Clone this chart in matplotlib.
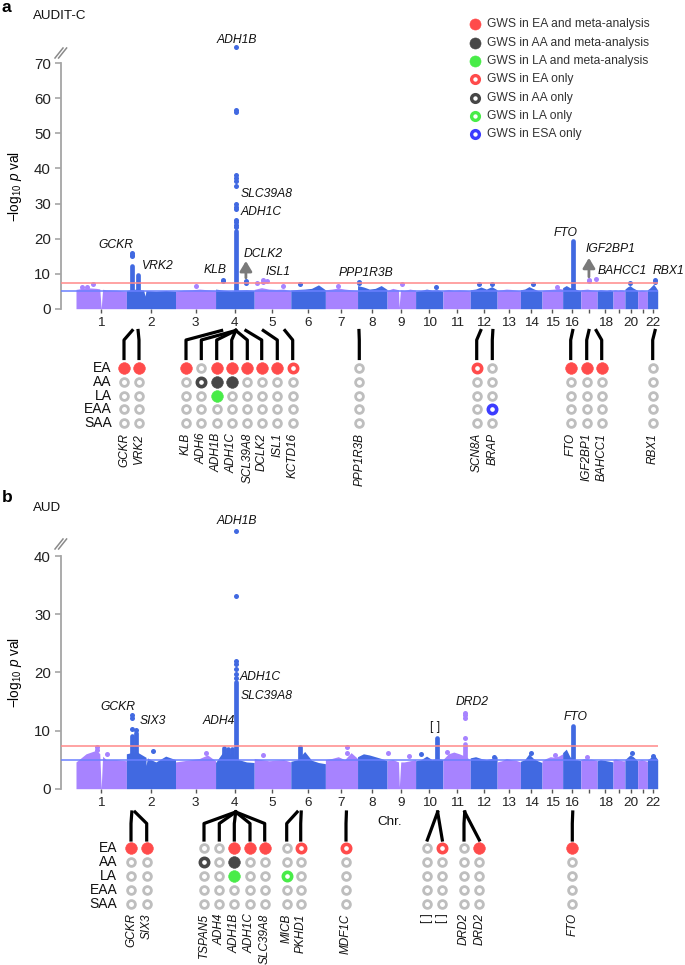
import numpy as np
import matplotlib
matplotlib.use("Agg")
import matplotlib.pyplot as plt

plt.rcParams["font.family"] = ["Liberation Sans", "DejaVu Sans"]
plt.rcParams["mathtext.fontset"] = "custom"
plt.rcParams["mathtext.rm"] = "Liberation Sans"
plt.rcParams["mathtext.it"] = "Liberation Sans:italic"

# ======================= DATA =======================
chrom_len = [249, 243, 198, 191, 181, 171, 159, 146, 141, 135, 135,
             133, 115, 107, 102, 90, 81, 78, 59, 63, 48, 51]
chrom_tick_labels = ["1", "2", "3", "4", "5", "6", "7", "8", "9", "10", "11",
                     "12", "13", "14", "15", "16", "", "18", "", "20", "", "22"]
gws_line = 7.3
sugg_line = 5.0

# ---- panel a (AUDIT-C) ----
env_a = [[5.5, 6.0, 5.8, 5.4, 5.3, 5.0], [5.2, 5.6, 5.2, 5.0, 5.2, 5.0],
         [5.0, 5.3, 5.4, 5.6, 5.4, 5.2], [5.6, 5.3, 5.1, 5.3, 5.4, 5.2],
         [5.5, 6.0, 5.6, 5.5, 5.6, 5.1], [5.3, 5.5, 5.6, 5.8, 6.8, 5.4],
         [5.4, 5.6, 5.9, 5.6, 5.4, 5.2], [6.6, 6.2, 5.6, 5.8, 6.6, 5.5],
         [5.2, 5.8, 5.4, 5.2, 5.6, 5.3], [5.0, 5.2, 5.6, 5.3, 5.4, 5.0],
         [5.2, 5.5, 5.3, 5.4, 5.3, 5.1], [5.4, 5.6, 6.2, 5.6, 6.3, 5.4],
         [5.2, 5.4, 5.6, 5.5, 5.3, 5.1], [5.4, 5.6, 6.3, 5.7, 5.2, 5.0],
         [5.2, 5.4, 5.5, 5.6, 5.8, 5.6], [6.0, 6.6, 6.0, 5.8, 5.4, 5.2],
         [5.4, 5.5, 5.6, 5.4, 5.3, 5.2], [5.2, 5.4, 5.3, 5.2, 5.4, 5.1],
         [5.3, 5.4, 5.2, 5.4, 5.3, 5.0], [5.6, 6.2, 6.6, 6.0, 5.6, 5.2],
         [5.0, 5.2, 5.3, 5.2, 5.1, 5.0], [5.4, 5.8, 6.4, 7.0, 6.2, 5.3]]
gaps_a = [(1, 0.50, 0.0), (2, 0.38, 3.6), (9, 0.42, 0.4)]
peak_cols_a = [(2, 29, 5, 12.3), (2, 58, 5, 9.7), (4, 99.5, 5, 22.3), (16, 50, 5, 19.2)]
peak_dots_a = [(2, 29, 15.8), (2, 29, 15.3), (2, 29, 14.9), (4, 38, 8.3), (4, 38, 7.8),
               (4, 99.5, 74.6), (4, 99.5, 56.7), (4, 99.5, 56.1), (4, 99.5, 38.0),
               (4, 99.5, 37.2), (4, 99.5, 36.3), (4, 99.5, 35.0), (4, 99.5, 29.9),
               (4, 99.5, 29.0), (4, 99.5, 28.4), (4, 99.5, 25.3), (4, 99.5, 24.7),
               (4, 99.5, 24.0), (4, 99.5, 23.3), (4, 150, 8.0), (4, 150, 7.4),
               (5, 45, 8.2), (5, 45, 7.7), (8, 5, 7.6), (8, 5, 7.2), (17, 40, 8.3),
               (17, 40, 7.9), (17, 76, 8.4), (22, 38, 8.2), (22, 38, 7.7),
               (1, 28, 6.1), (1, 56, 6.3), (1, 86, 7.1), (3, 101, 6.5), (5, 14, 7.2),
               (5, 62, 7.8), (5, 141, 6.5), (6, 46, 7.0), (7, 64, 6.4), (9, 72, 7.0),
               (10, 99, 6.3), (12, 45, 7.0), (12, 106, 7.0), (14, 61, 7.0), (15, 72, 6.3),
               (20, 25, 7.2)]
yticks_a = [0, 10, 20, 30, 40, 50, 60, 70]
labels_a = [("ADH1B", 4, 99.5, 76.6, 1, "center"), ("GCKR", 2, 29, 18.2, -16, "center"),
            ("VRK2", 2, 58, 12.3, 3.5, "left"), ("KLB", 4, 38, 11.0, -8, "center"),
            ("SLC39A8", 4, 99.5, 32.7, 5, "left"), ("ADH1C", 4, 99.5, 27.5, 5, "left"),
            ("DCLK2", 4, 150, 15.6, -2, "left"), ("ISL1", 5, 45, 10.6, 2, "left"),
            ("PPP1R3B", 8, 5, 10.2, -20, "left"), ("FTO", 16, 50, 21.7, -7, "center"),
            ("IGF2BP1", 17, 40, 16.9, -3.5, "left"), ("BAHCC1", 17, 76, 10.8, 1, "left"),
            ("RBX1", 22, 38, 10.8, -2.5, "left")]
arrows_a = [(4, 150, 8.8, 13.6), (17, 40, 9.1, 14.5)]

genes_a = ["GCKR", "VRK2", "KLB", "ADH6", "ADH1B", "ADH1C", "SCL39A8", "DCLK2", "ISL1",
           "KCTD16", "PPP1R3B", "SCN8A", "BRAP", "FTO", "IGF2BP1", "BAHCC1", "RBX1"]
gene_chr_a = [2, 2, 4, 4, 4, 4, 4, 4, 5, 5, 8, 12, 12, 16, 17, 17, 22]
gene_pos_a = [29, 58, 30, 99.8, 99.9, 100.0, 100.2, 150, 45, 152, 7, 52, 112, 50, 40, 76, 38]
status_a = ["F....", "F....", "F....", ".R...", "FFF..", "FF...", "F....", "F....", "F....",
            "R....", ".....", "R....", "...R.", "F....", "F....", "F....", "....."]

# ---- panel b (AUD) ----
env_b = [[4.6, 6.0, 6.6, 5.0, 5.0, 4.8], [6.0, 6.4, 5.4, 4.6, 5.6, 5.0],
         [4.6, 4.8, 5.0, 5.2, 5.8, 4.8], [4.5, 6.4, 6.0, 5.0, 4.6, 4.5],
         [5.2, 5.0, 4.8, 4.9, 5.0, 4.6], [4.7, 5.0, 6.4, 4.9, 4.5, 4.3],
         [5.0, 5.2, 5.5, 5.0, 6.2, 5.2], [5.5, 6.0, 5.8, 5.5, 5.2, 4.8],
         [4.8, 5.0, 4.6, 4.6, 4.8, 5.0], [4.8, 5.0, 5.6, 5.0, 5.2, 5.0],
         [5.0, 6.0, 6.3, 6.0, 5.6, 5.0], [5.3, 5.5, 5.2, 5.0, 5.2, 5.5],
         [4.6, 4.8, 5.2, 5.0, 4.9, 4.6], [4.7, 5.0, 6.0, 5.2, 4.8, 4.5],
         [4.8, 5.2, 5.5, 5.4, 5.6, 6.0], [6.2, 6.8, 5.5, 5.0, 5.0, 4.8],
         [5.0, 5.2, 5.0, 5.1, 5.0, 4.8], [4.8, 5.0, 4.9, 4.8, 4.7, 4.6],
         [5.0, 5.1, 5.0, 4.9, 4.8, 4.8], [5.0, 5.4, 5.8, 5.6, 5.2, 4.8],
         [4.8, 4.9, 5.0, 4.9, 4.8, 4.7], [5.0, 5.2, 5.5, 5.8, 5.5, 5.0]]
gaps_b = [(1, 0.50, 0.0), (2, 0.40, 4.0), (9, 0.43, 0.3)]
peak_cols_b = [(2, 29, 5, 9.0), (2, 47, 5, 9.6), (4, 40, 5, 7.0), (4, 60, 5, 6.9),
               (4, 80, 5, 6.8), (4, 99.5, 5, 18.3), (6, 45.5, 5, 7.2), (10, 106, 5, 8.7),
               (11, 108, 5, 7.6), (16, 50, 5, 10.8)]
peak_dots_b = [(2, 29, 12.7), (2, 29, 12.1), (2, 29, 10.2), (2, 47, 10.1),
               (4, 99.5, 44.3), (4, 99.5, 33.1), (4, 99.5, 22.0), (4, 99.5, 21.4),
               (4, 99.5, 20.5), (4, 99.5, 19.8), (4, 99.5, 19.1), (11, 108, 13.0),
               (11, 108, 12.6), (11, 108, 12.2), (11, 108, 8.7), (7, 105, 7.2),
               (7, 105, 6.2), (1, 102, 7.2), (1, 102, 6.6), (1, 153, 6.0), (2, 133, 6.5),
               (3, 153, 6.2), (5, 44, 5.8), (9, 4, 6.2), (9, 110, 5.6), (10, 25, 6.0),
               (11, 20, 6.3), (12, 120, 5.4), (14, 51, 6.2), (15, 66, 5.8), (17, 29, 5.5),
               (20, 33, 6.2), (22, 26, 5.7)]
yticks_b = [0, 10, 20, 30, 40]
labels_b = [("ADH1B", 4, 99.5, 46.1, 1, "center"), ("ADH1C", 4, 99.5, 19.25, 4, "left"),
            ("SLC39A8", 4, 99.5, 15.9, 5, "left"), ("GCKR", 2, 29, 14.1, -14, "center"),
            ("SIX3", 2, 47, 11.7, 3.5, "left"), ("ADH4", 4, 99.5, 11.7, -1, "right"),
            ("[ ]", 10, 106, 10.66, -2, "center"), ("DRD2", 11, 108, 14.95, 7.5, "center"),
            ("FTO", 16, 50, 12.4, 3, "center")]

genes_b = ["GCKR", "SIX3", "TSPAN5", "ADH4", "ADH1B", "ADH1C", "SLC39A8", "MICB", "PKHD1",
           "MDF1C", "[ ]", "[ ]", "DRD2", "DRD2", "FTO"]
gene_chr_b = [2, 2, 4, 4, 4, 4, 4, 6, 6, 7, 10, 10, 11, 11, 16]
gene_pos_b = [27, 43, 99.5, 99.6, 99.7, 99.8, 99.9, 31.5, 51.5, 104, 109, 109, 108, 108, 50]
status_b = ["F....", "F....", ".R...", ".....", "FFF..", "F....", "F....", "..R..", "R....",
            "R....", ".....", "R....", ".....", "F....", "F...."]

row_names = ["EA", "AA", "LA", "EAA", "SAA"]
row_colors = ["#FF4B4B", "#474747", "#48EC48", "#3C3CFF", "#9A9A9A"]

legend_labels = ["GWS in EA and meta-analysis", "GWS in AA and meta-analysis",
                 "GWS in LA and meta-analysis", "GWS in EA only", "GWS in AA only",
                 "GWS in LA only", "GWS in ESA only"]
legend_colors = ["#FF4B4B", "#474747", "#48EC48", "#FF4B4B", "#474747", "#48EC48", "#3C3CFF"]
legend_filled = [True, True, True, False, False, False, False]

# ======================= STYLE / LAYOUT =======================
W, H = 685, 965
PURPLE = "#A783FF"
BLUE = "#4169E1"
GREY_RING = "#BEBEBE"

fig = plt.figure(figsize=(W / 100, H / 100), dpi=100)


def px_rect(l, t, r, b):
    return [l / W, 1 - b / H, (r - l) / W, (b - t) / H]


starts = np.concatenate([[0], np.cumsum(chrom_len)[:-1]])
total = float(np.sum(chrom_len))
centers = starts + np.array(chrom_len) / 2.0

g0_px, g1_px, ax_l_px, ax_r_px = 76.0, 657.7, 60.7, 670.0
scale = (g1_px - g0_px) / total
xlim = (-(g0_px - ax_l_px) / scale, total + (ax_r_px - g1_px) / scale)


def cum(ch, pos):
    return starts[ch - 1] + pos


def is_italic(name):
    return "italic" if any(ch.isalnum() for ch in name) else "normal"


def manhattan(ax, env, gaps, cols, dots, yticks, ytop, labels, arrows):
    for i, L in enumerate(chrom_len):
        c = PURPLE if i % 2 == 0 else BLUE
        xs = list(starts[i] + L * np.linspace(0, 1, len(env[i])))
        ys = list(env[i])
        for ch, f, d in gaps:
            if ch == i + 1:
                xg = starts[i] + L * f
                dlt = 7.0
                hl = np.interp(xg - dlt, xs, ys)
                hr = np.interp(xg + dlt, xs, ys)
                xs += [xg - dlt, xg, xg + dlt]
                ys += [hl, d, hr]
        order = np.argsort(xs)
        ax.fill_between(np.array(xs)[order], 0, np.array(ys)[order], color=c, lw=0, zorder=2)
    for ch, pos, lo, hi in cols:
        c = PURPLE if (ch - 1) % 2 == 0 else BLUE
        ax.plot([cum(ch, pos)] * 2, [lo, hi], color=c, lw=3.4, solid_capstyle="round", zorder=3)
    for ch, pos, v in dots:
        c = PURPLE if (ch - 1) % 2 == 0 else BLUE
        ax.plot(cum(ch, pos), v, "o", ms=3.6, color=c, mew=0, zorder=3)
    ax.hlines(gws_line, xlim[0], total, color="#FF8A8A", lw=1.3, alpha=0.85, zorder=4)
    ax.hlines(sugg_line, xlim[0], total, color="#6A80FF", lw=1.3, alpha=0.85, zorder=4)
    ax.set_xlim(*xlim)
    ax.set_ylim(0, ytop)
    ax.set_yticks(yticks)
    ax.set_xticks(centers, chrom_tick_labels)
    for s in ["top", "right", "bottom"]:
        ax.spines[s].set_visible(False)
    ax.spines["left"].set_color("#A5A5A5")
    ax.spines["left"].set_linewidth(1.3)
    ax.spines["left"].set_bounds(yticks[0], yticks[-1])
    ax.tick_params(axis="y", length=4, width=1.2, color="#A5A5A5", pad=3,
                   labelsize=10.8, labelcolor="#222222")
    ax.tick_params(axis="x", length=3, width=1, color="#555555", pad=3,
                   labelsize=9.7, labelcolor="#222222")
    ax.patch.set_visible(False)
    for name, ch, pos, y, dx, ha in labels:
        ax.annotate(name, xy=(cum(ch, pos), y), xytext=(dx * 0.72, 0),
                    textcoords="offset points", ha=ha, va="center",
                    style=is_italic(name), fontsize=8.7, color="#111111",
                    annotation_clip=False)
    for ch, pos, y0, y1 in arrows:
        ax.annotate("", xy=(cum(ch, pos), y1), xytext=(cum(ch, pos), y0),
                    arrowprops=dict(arrowstyle="-|>,head_width=0.3,head_length=0.5",
                                    color="#7A7A7A", lw=2.0, shrinkA=0, shrinkB=0,
                                    mutation_scale=12))


# panel a axes: value 0 at y=308.7 px, 3.506 px per unit
ya0, ya_ppu, ya_top = 308.7, 3.506, 80
ax_a = fig.add_axes(px_rect(ax_l_px, ya0 - ya_top * ya_ppu, ax_r_px, ya0))
manhattan(ax_a, env_a, gaps_a, peak_cols_a, peak_dots_a, yticks_a, ya_top, labels_a, arrows_a)

yb0, yb_ppu, yb_top = 788.7, 5.8175, 46
ax_b = fig.add_axes(px_rect(ax_l_px, yb0 - yb_top * yb_ppu, ax_r_px, yb0))
manhattan(ax_b, env_b, gaps_b, peak_cols_b, peak_dots_b, yticks_b, yb_top, labels_b, [])

# overlay in pixel coordinates
ov = fig.add_axes([0, 0, 1, 1], zorder=5)
ov.set_xlim(0, W)
ov.set_ylim(H, 0)
ov.axis("off")
ov.patch.set_visible(False)


def gx_px(ax, ch, pos):
    return ax.transData.transform((cum(ch, pos), 0))[0]


def cell(x, y, code, color):
    if code == "F":
        ov.plot(x, y, "o", ms=8.4, mfc=color, mec=color, mew=0.4, zorder=6)
    elif code == "R":
        ov.plot(x, y, "o", ms=6.0, mfc="white", mec=color, mew=2.6, zorder=6)
    else:
        ov.plot(x, y, "o", ms=5.6, mfc="white", mec=GREY_RING, mew=2.0, zorder=6)


def dot_matrix(ax, genes, gchr, gpos, status, col_x, row_y0, row_dy, label_x,
               y_top, y_bend, y_bot, straight, name_top):
    for i, g in enumerate(genes):
        xt = gx_px(ax, gchr[i], gpos[i])
        xc = col_x[i]
        if straight[i]:
            ov.plot([xt, xc], [y_top, y_bot], color="black", lw=2.3, zorder=5)
        else:
            ov.plot([xt, xc, xc], [y_top, y_bend, y_bot], color="black", lw=2.3, zorder=5)
        for r in range(5):
            cell(xc, row_y0 + r * row_dy, status[i][r], row_colors[r])
        ov.text(xc, name_top, g, rotation=90, ha="center", va="top", style=is_italic(g),
                fontsize=8.5, color="#111111")
    for r, nm in enumerate(row_names):
        ov.text(label_x, row_y0 + r * row_dy, nm, ha="right", va="center", fontsize=10,
                color="#111111")


col_x_a = [124, 139, 186, 201.3, 216.7, 231.7, 247.3, 261.7, 277.3, 292.7, 359.3,
           476.7, 492.3, 570.7, 586.7, 601.7, 652.7]
straight_a = [False] * len(genes_a)
dot_matrix(ax_a, genes_a, gene_chr_a, gene_pos_a, status_a, col_x_a, 367.7, 13.9, 111.7,
           330.5, 340, 358.5, straight_a, 433)

col_x_b = [131, 146.7, 204, 219.3, 234.3, 250, 264.7, 286.7, 300.7, 346, 427.3, 442.3,
           464, 479.3, 572.3]
straight_b = [False] * 10 + [True, True, False, True, False]
dot_matrix(ax_b, genes_b, gene_chr_b, gene_pos_b, status_b, col_x_b, 848.3, 13.9, 117.3,
           812, 823.5, 840, straight_b, 913.3)

# legend
for i, (lab, c, f) in enumerate(zip(legend_labels, legend_colors, legend_filled)):
    y = 24.3 + i * 18.3
    if f:
        ov.plot(475, y, "o", ms=8.0, mfc=c, mec=c, mew=0.4)
    else:
        ov.plot(475, y, "o", ms=5.6, mfc="white", mec=c, mew=2.4)
    ov.text(486.7, y, lab, ha="left", va="center", fontsize=8.7, color="#333333")

# titles, axis labels, breaks
ov.text(2, 7, "a", fontsize=12.5, fontweight="bold", ha="left", va="center")
ov.text(33, 16, "AUDIT-C", fontsize=9.6, ha="left", va="center", color="#111111")
ov.text(2, 498, "b", fontsize=12.5, fontweight="bold", ha="left", va="center")
ov.text(33, 508, "AUD", fontsize=9.6, ha="left", va="center", color="#111111")
ylab = "\u2212log$_{10}$ $p$ val"
ov.text(15, 187, ylab, rotation=90, ha="center", va="center", fontsize=9.8)
ov.text(15, 673, ylab, rotation=90, ha="center", va="center", fontsize=9.8)
ov.text(390, 822, "Chr.", ha="center", va="center", fontsize=9.7, color="#111111")
for yb in (53, 544):
    for dx in (0, 3.6):
        ov.plot([55 + dx, 63 + dx], [yb + 5, yb - 5], color="#8A8A8A", lw=1.1)

fig.savefig("out.png", dpi=100)
